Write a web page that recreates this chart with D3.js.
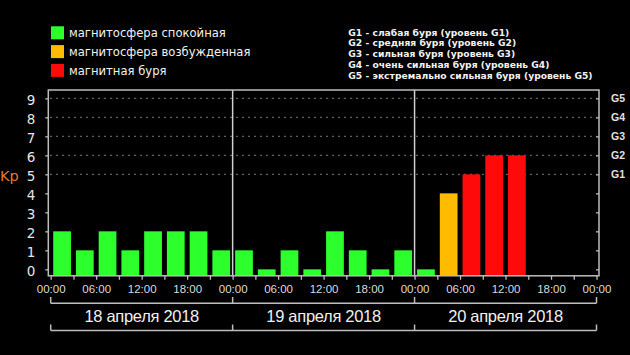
<!DOCTYPE html>
<html><head><meta charset="utf-8">
<script src="https://cdn.jsdelivr.net/npm/d3@7/dist/d3.min.js"></script>
<style>html,body{margin:0;padding:0;background:#000;}svg{display:block;}</style>
</head><body>
<script>
// ---- data ----
const dayLabels = ["18 апреля 2018", "19 апреля 2018", "20 апреля 2018"];
const slotStarts = [
  "2018-04-18T00:00Z","2018-04-18T03:00Z","2018-04-18T06:00Z","2018-04-18T09:00Z",
  "2018-04-18T12:00Z","2018-04-18T15:00Z","2018-04-18T18:00Z","2018-04-18T21:00Z",
  "2018-04-19T00:00Z","2018-04-19T03:00Z","2018-04-19T06:00Z","2018-04-19T09:00Z",
  "2018-04-19T12:00Z","2018-04-19T15:00Z","2018-04-19T18:00Z","2018-04-19T21:00Z",
  "2018-04-20T00:00Z","2018-04-20T03:00Z","2018-04-20T06:00Z","2018-04-20T09:00Z",
  "2018-04-20T12:00Z"
];
const kpValues = [2,1,2,1,2,2,2,1, 1,0,1,0,2,1,0,1, 0,4,5,6,6];
const yTicks = [0,1,2,3,4,5,6,7,8,9];
const gLevels = [5,6,7,8,9];
const gLabels = ["G1","G2","G3","G4","G5"];
const legendLabels = ["магнитосфера спокойная","магнитосфера возбужденная","магнитная буря"];
const gLegend = [
  "G1 - слабая буря (уровень G1)",
  "G2 - средняя буря (уровень G2)",
  "G3 - сильная буря (уровень G3)",
  "G4 - очень сильная буря (уровень G4)",
  "G5 - экстремально сильная буря (уровень G5)"
];
const colors = ["#2cff2c", "#ffbb00", "#ff0a0a"];
const levelOf = v => v >= 5 ? 2 : (v === 4 ? 1 : 0);

// ---- layout ----
const W = 630, H = 355;
const svg = d3.select("body").append("svg").attr("width", W).attr("height", H)
  .style("background", "#000");

const t0 = new Date("2018-04-18T00:00Z"), t1 = new Date("2018-04-21T00:00Z");
const x = d3.scaleUtc().domain([t0, t1]).range([50.7, 596.5]);
const y = d3.scaleLinear().domain([-0.33, 9.44]).range([275.6, 90]);
const frameL = 48.3, frameR = 599, frameT = 90, frameB = 275.8;

const gridCol = "#bdbdbd";

// dotted grid
svg.append("g").selectAll("line").data(gLevels).join("line")
  .attr("x1", frameL + 2).attr("x2", frameR - 2)
  .attr("y1", d => y(d)).attr("y2", d => y(d))
  .attr("stroke", "#8a8a8a").attr("stroke-width", 1.4)
  .attr("stroke-dasharray", "1.4,4.6");

// bars
const data = slotStarts.map((s, i) => ({t: new Date(s), v: kpValues[i]}));
const slotW = x(new Date("2018-04-18T03:00Z")) - x(t0);
const bw = slotW * 0.78;
svg.append("g").selectAll("rect").data(data).join("rect")
  .attr("x", d => x(d.t) + (slotW - bw) / 2)
  .attr("width", bw)
  .attr("y", d => y(d.v))
  .attr("height", d => y(-0.33) - y(d.v))
  .attr("fill", d => colors[levelOf(d.v)]);

// day separators
const dayBounds = d3.utcDay.range(t0, d3.utcDay.offset(t1, 1));
svg.append("g").selectAll("line").data(dayBounds.slice(1, 3)).join("line")
  .attr("x1", d => x(d)).attr("x2", d => x(d))
  .attr("y1", frameT).attr("y2", frameB)
  .attr("stroke", "#d0d0d0").attr("stroke-width", 1.5);

// frame
svg.append("rect").attr("x", frameL).attr("y", frameT)
  .attr("width", frameR - frameL).attr("height", frameB - frameT)
  .attr("fill", "none").attr("stroke", gridCol).attr("stroke-width", 1.5);

// left y axis
const yAxis = svg.append("g").attr("transform", `translate(${frameL},0)`)
  .call(d3.axisLeft(y).tickValues(yTicks).tickSize(3).tickPadding(10).tickFormat(d3.format("d")));
yAxis.select(".domain").remove();
yAxis.selectAll("line").attr("stroke", gridCol).attr("stroke-width", 1.3);
yAxis.selectAll("text").attr("fill", "#e6e6e6")
  .style("font-family", "DejaVu Sans").style("font-size", "13.5px")
  .attr("dy", "0.42em");

// right ticks
const yAxisR = svg.append("g").attr("transform", `translate(${frameR},0)`)
  .call(d3.axisLeft(y).tickValues(yTicks).tickSize(3).tickFormat(""));
yAxisR.select(".domain").remove();
yAxisR.selectAll("line").attr("stroke", gridCol).attr("stroke-width", 1.3);

// G labels
svg.append("g").selectAll("text").data(gLevels).join("text")
  .attr("x", 611).attr("y", d => y(d)).attr("dy", "0.36em")
  .attr("fill", "#e0e0e0")
  .style("font-family", "Liberation Sans").style("font-weight", "bold").style("font-size", "10.5px")
  .text((d, i) => gLabels[i]);

// Kp label
svg.append("text").attr("x", 0).attr("y", y(5)).attr("dy", "0.45em")
  .attr("fill", "#e8782a").style("font-family", "DejaVu Sans").style("font-size", "14.5px")
  .text("Kp");

// x axis
const xAxis = svg.append("g").attr("transform", `translate(0,${frameB})`)
  .call(d3.axisBottom(x).ticks(d3.utcHour.every(3)).tickSize(4)
    .tickFormat(d => d.getUTCHours() % 6 === 0 ? d3.utcFormat("%H:%M")(d) : ""));
xAxis.select(".domain").remove();
xAxis.selectAll("line").attr("stroke", gridCol).attr("stroke-width", 1.3);
xAxis.selectAll("text").attr("fill", "#dcdcdc")
  .style("font-family", "Liberation Sans").style("font-size", "11.5px")
  .attr("y", 13.5).attr("dy", "0.35em");

// brackets
const bracket = (yTop, yBot) => {
  svg.append("line").attr("x1", x(t0)).attr("x2", x(t1)).attr("y1", yBot).attr("y2", yBot)
    .attr("stroke", gridCol).attr("stroke-width", 1.5);
  svg.append("g").selectAll("line").data(dayBounds.slice(0, 4)).join("line")
    .attr("x1", d => x(d)).attr("x2", d => x(d)).attr("y1", yTop).attr("y2", yBot)
    .attr("stroke", gridCol).attr("stroke-width", 1.5);
};
bracket(297, 303.3);
bracket(324.5, 330.5);

// day labels
svg.append("g").selectAll("text").data(dayLabels).join("text")
  .attr("x", (d, i) => (x(dayBounds[i]) + x(dayBounds[i + 1])) / 2)
  .attr("y", 316.5).attr("dy", "0.36em").attr("text-anchor", "middle")
  .attr("fill", "#f0f0f0").style("font-family", "Liberation Sans").style("font-size", "16.5px")
  .style("letter-spacing", "-0.3px")
  .text(d => d);

// left legend
const lg = svg.append("g");
lg.selectAll("rect").data(legendLabels).join("rect")
  .attr("x", 51).attr("y", (d, i) => 26.3 + i * 18.8).attr("width", 13).attr("height", 13)
  .attr("fill", (d, i) => colors[i]);
lg.selectAll("text").data(legendLabels).join("text")
  .attr("x", 69).attr("y", (d, i) => 32.8 + i * 18.8).attr("dy", "0.36em")
  .attr("fill", "#f2f2f2").style("font-family", "DejaVu Sans").style("font-size", "11.6px")
  .text(d => d);

// right legend
svg.append("g").selectAll("text").data(gLegend).join("text")
  .attr("x", 348.3).attr("y", (d, i) => 32.3 + i * 10.85).attr("dy", "0.36em")
  .attr("fill", "#f2f2f2").style("font-family", "DejaVu Sans").style("font-weight", "bold")
  .style("font-size", "9.2px")
  .text(d => d);
</script>
</body></html>
